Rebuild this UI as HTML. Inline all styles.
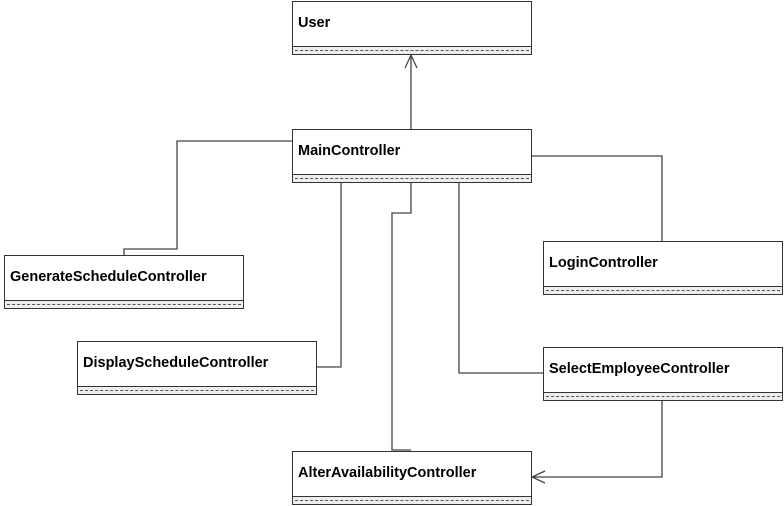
<!DOCTYPE html>
<html><head><style>
body{margin:0;background:#fff;width:784px;height:506px;overflow:hidden}
.b{position:absolute;width:238px;height:52px;border:1px solid #333;background:#fff;font-family:"Liberation Sans",sans-serif;font-weight:bold;font-size:14.5px}
.b span{position:absolute;left:5px;top:13px}
.b i{position:absolute;left:0;right:0;bottom:0;height:7px;border-top:1px solid #333;background:#eee}
.b i:after{content:"";position:absolute;left:2px;right:2px;top:3px;border-top:1px dashed #555}
</style></head><body>
<svg width="784" height="506" style="position:absolute;left:0;top:0" fill="none" stroke="#444" stroke-width="1.3">
<path d="M411 129V55M405 68L411 55L417 68"/>
<path d="M292 141H177V249H124V255"/>
<path d="M341 183V367H316"/>
<path d="M411 183V213H392V450H411"/>
<path d="M459 183V373H543"/>
<path d="M531 156H662V241"/>
<path d="M662 400V477H532M545 471L532 477L545 483"/>
</svg>
<div class="b" style="left:292px;top:1px"><span>User</span><i></i></div>
<div class="b" style="left:292px;top:129px"><span>MainController</span><i></i></div>
<div class="b" style="left:4px;top:255px"><span>GenerateScheduleController</span><i></i></div>
<div class="b" style="left:77px;top:341px"><span>DisplayScheduleController</span><i></i></div>
<div class="b" style="left:543px;top:241px"><span>LoginController</span><i></i></div>
<div class="b" style="left:543px;top:347px"><span>SelectEmployeeController</span><i></i></div>
<div class="b" style="left:292px;top:451px"><span>AlterAvailabilityController</span><i></i></div>
</body></html>
